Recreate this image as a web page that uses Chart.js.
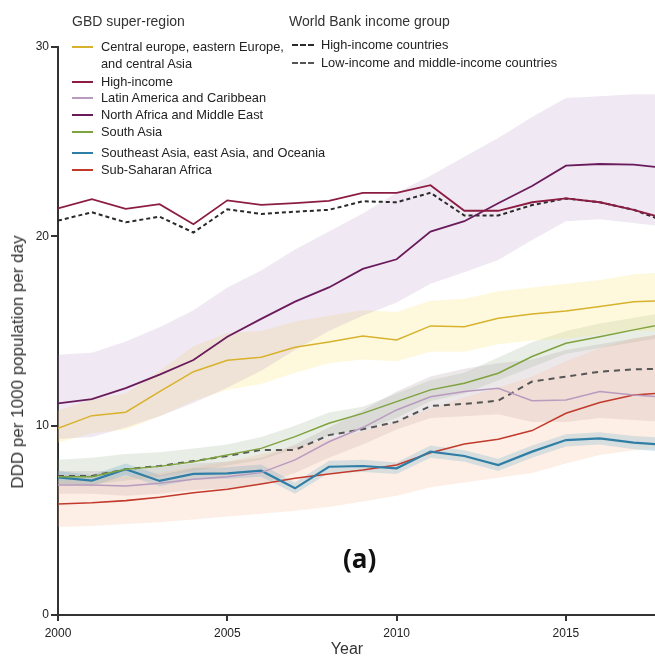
<!DOCTYPE html>
<html>
<head>
<meta charset="utf-8">
<script src="https://cdn.jsdelivr.net/npm/chart.js@4"></script>
<style>
  body { margin: 0; background: #fff; }
  #wrap { position: relative; width: 655px; height: 657px; font-family: "Liberation Sans", Arial, sans-serif; color: #222; overflow: hidden; }
  #wrap canvas { position: absolute; left: 0; top: 0; }
  .lg { position: absolute; font-size: 12.8px; line-height: 14px; white-space: nowrap; }
  .hd { position: absolute; font-size: 14px; color: #333; white-space: nowrap; }
  .sw { position: absolute; width: 21px; height: 0; border-top: 2px solid; }
  #panel { position: absolute; left: 343px; top: 540px; font-family: "Open Sans", sans-serif; font-weight: bold; font-size: 26px; color: #111; }
  #ytitle { position: absolute; left: 18px; top: 362px; font-size: 17px; color: #333; white-space: nowrap; transform: translate(-50%, -50%) rotate(-90deg); }
  #xtitle { position: absolute; left: 347px; top: 649px; font-size: 16px; color: #333; white-space: nowrap; transform: translate(-50%, -50%); }
</style>
</head>
<body>
<div id="wrap">
  <canvas id="canvas" width="655" height="657"></canvas>
  <div id="legend"></div>
  <div id="panel">(a)</div>
  <div id="ytitle">DDD per 1000 population per day</div>
  <div id="xtitle">Year</div>
</div>
<script>
// years and series (DDD per 1000 population per day)
var years = [2000, 2001, 2002, 2003, 2004, 2005, 2006, 2007, 2008, 2009, 2010, 2011, 2012, 2013, 2014, 2015, 2016, 2017, 2018];

var centralEurope = [9.86, 10.53, 10.71, 11.8, 12.85, 13.45, 13.61, 14.14, 14.42, 14.74, 14.53, 15.27, 15.23, 15.67, 15.9, 16.06, 16.29, 16.55, 16.6];
var highIncome = [21.48, 21.96, 21.45, 21.7, 20.64, 21.9, 21.66, 21.75, 21.87, 22.3, 22.3, 22.7, 21.35, 21.35, 21.8, 22.0, 21.8, 21.4, 20.9];
var latinAmerica = [6.87, 6.87, 6.81, 6.96, 7.17, 7.3, 7.52, 8.19, 9.15, 9.9, 10.83, 11.53, 11.8, 11.98, 11.32, 11.36, 11.8, 11.62, 11.5];
var northAfrica = [11.18, 11.4, 11.98, 12.7, 13.47, 14.7, 15.64, 16.55, 17.3, 18.28, 18.79, 20.25, 20.8, 21.75, 22.66, 23.73, 23.82, 23.79, 23.6];
var southAsia = [7.3, 7.3, 7.7, 7.85, 8.1, 8.45, 8.8, 9.42, 10.13, 10.65, 11.27, 11.89, 12.24, 12.77, 13.65, 14.35, 14.7, 15.06, 15.4];
var southeastAsia = [7.27, 7.1, 7.7, 7.08, 7.45, 7.48, 7.62, 6.69, 7.83, 7.87, 7.75, 8.63, 8.4, 7.92, 8.63, 9.24, 9.33, 9.1, 8.98];
var subSaharan = [5.86, 5.93, 6.04, 6.22, 6.46, 6.64, 6.92, 7.22, 7.45, 7.66, 7.92, 8.57, 9.03, 9.28, 9.74, 10.65, 11.22, 11.62, 11.74];
var highIncomeCountries = [20.83, 21.27, 20.74, 21.04, 20.2, 21.43, 21.18, 21.3, 21.4, 21.85, 21.8, 22.3, 21.1, 21.1, 21.65, 22.0, 21.8, 21.4, 20.75];
var lowMiddleCountries = [7.34, 7.34, 7.7, 7.87, 8.13, 8.4, 8.72, 8.72, 9.5, 9.81, 10.2, 11.04, 11.15, 11.32, 12.33, 12.59, 12.85, 12.98, 13.0];

// uncertainty bands
var northAfricaLow = [9.3, 9.4, 9.9, 10.5, 11.2, 12.0, 12.9, 14.0, 15.0, 15.8, 16.5, 17.5, 18.1, 18.75, 19.8, 20.8, 20.9, 20.7, 20.5];
var northAfricaHigh = [13.75, 13.85, 14.45, 15.2, 16.1, 17.3, 18.2, 19.3, 20.25, 21.2, 22.3, 23.2, 24.2, 25.2, 26.3, 27.3, 27.4, 27.5, 27.5];
var centralEuropeLow = [9.1, 9.6, 9.8, 10.5, 11.3, 11.9, 12.2, 12.8, 13.3, 13.5, 13.4, 13.9, 13.9, 14.3, 14.5, 14.6, 14.8, 15.0, 15.0];
var centralEuropeHigh = [10.8, 11.4, 11.7, 12.9, 14.2, 14.9, 15.0, 15.5, 15.8, 16.1, 16.0, 16.6, 16.7, 17.1, 17.3, 17.5, 17.7, 18.0, 18.1];
var subSaharanLow = [4.65, 4.7, 4.8, 4.9, 5.05, 5.2, 5.35, 5.5, 5.7, 6.0, 6.3, 6.75, 7.0, 7.25, 7.5, 8.0, 8.45, 8.7, 8.8];
var subSaharanHigh = [7.1, 7.2, 7.3, 7.5, 7.8, 8.1, 8.5, 8.9, 9.3, 9.7, 10.2, 10.9, 11.5, 12.0, 12.6, 13.4, 14.1, 14.6, 14.9];
var latinAmericaLow = [6.4, 6.4, 6.3, 6.4, 6.6, 6.7, 6.9, 7.5, 8.3, 9.0, 9.8, 10.4, 10.5, 10.6, 10.2, 10.2, 10.4, 10.3, 10.2];
var latinAmericaHigh = [7.6, 7.6, 7.6, 7.8, 8.0, 8.1, 8.3, 9.0, 9.9, 10.8, 11.8, 12.6, 13.0, 13.3, 13.5, 14.0, 14.3, 14.6, 14.9];
var southAsiaLow = [6.9, 6.9, 7.1, 7.3, 7.6, 7.9, 8.2, 8.8, 9.5, 9.8, 10.4, 11.3, 11.7, 12.4, 13.1, 13.8, 14.1, 14.4, 14.7];
var southAsiaHigh = [8.2, 8.3, 8.5, 8.6, 8.8, 9.0, 9.4, 10.0, 10.7, 11.0, 11.7, 12.4, 12.8, 13.6, 14.4, 15.0, 15.4, 15.7, 16.0];
var southeastAsiaLow = [6.95, 6.8, 7.4, 6.8, 7.15, 7.2, 7.3, 6.4, 7.5, 7.55, 7.45, 8.3, 8.1, 7.6, 8.3, 8.9, 9.0, 8.75, 8.6];
var southeastAsiaHigh = [7.6, 7.4, 8.0, 7.4, 7.75, 7.8, 7.95, 7.0, 8.15, 8.2, 8.05, 8.95, 8.7, 8.25, 8.95, 9.55, 9.65, 9.45, 9.35];

var yTicks = [0, 10, 20, 30];
var xTicks = [2000, 2005, 2010, 2015];

function pts(vals) {
    return vals.map(function (v, i) { return { x: years[i], y: v }; });
}

var datasets = [];

function addBand(low, high, color) {
    datasets.push({ data: pts(low), borderWidth: 0, pointRadius: 0, fill: false, order: 2 });
    datasets.push({ data: pts(high), borderWidth: 0, pointRadius: 0, fill: '-1', backgroundColor: color, order: 2 });
}

function addLine(vals, color, width, dash) {
    datasets.push({ data: pts(vals), borderColor: color, borderWidth: width, borderDash: dash || [], pointRadius: 0, fill: false, tension: 0, order: 0 });
}

addBand(northAfricaLow, northAfricaHigh, 'rgba(180,140,190,0.2)');
addBand(centralEuropeLow, centralEuropeHigh, 'rgba(250,232,120,0.25)');
addBand(subSaharanLow, subSaharanHigh, 'rgba(248,180,140,0.22)');
addBand(latinAmericaLow, latinAmericaHigh, 'rgba(150,125,140,0.18)');
addBand(southAsiaLow, southAsiaHigh, 'rgba(150,175,140,0.22)');
addBand(southeastAsiaLow, southeastAsiaHigh, 'rgba(120,190,225,0.35)');

addLine(centralEurope, '#d8b22c', 1.5);
addLine(highIncome, '#8c1d42', 1.8);
addLine(latinAmerica, '#b99bc0', 1.5);
addLine(northAfrica, '#6a1b5c', 1.8);
addLine(southAsia, '#7ea33e', 1.5);
addLine(southeastAsia, '#2f7ea6', 2.2);
addLine(subSaharan, '#c23a2c', 1.6);
addLine(highIncomeCountries, '#2a2a2a', 2, [4, 3]);
addLine(lowMiddleCountries, '#555555', 2, [6, 5]);

const ctx = document.getElementById('canvas').getContext('2d');
const myChart = new Chart(ctx, {
    type: 'line',
    data: { datasets: datasets },
    options: {
        responsive: false,
        animation: false,
        layout: { padding: { top: 47, right: 0, left: 0, bottom: 0 } },
        plugins: { legend: { display: false }, tooltip: { enabled: false } },
        scales: {
            x: {
                type: 'linear',
                min: 2000,
                max: 2017.63,
                afterFit: function (s) { s.height = 42; },
                afterBuildTicks: function (s) { s.ticks = xTicks.map(function (v) { return { value: v }; }); },
                ticks: {
                    callback: function (v) { return String(v); },
                    color: '#222', font: { family: 'Liberation Sans', size: 12 }, padding: 5, maxRotation: 0
                },
                grid: { drawOnChartArea: false, drawTicks: true, tickLength: 6, color: '#333', lineWidth: 2 },
                border: { color: '#333', width: 2 }
            },
            y: {
                min: 0,
                max: 30,
                afterFit: function (s) { s.width = 58; },
                afterBuildTicks: function (s) { s.ticks = yTicks.map(function (v) { return { value: v }; }); },
                ticks: { color: '#222', font: { family: 'Liberation Sans', size: 12 }, padding: 2 },
                grid: { drawOnChartArea: false, drawTicks: true, tickLength: 7, color: '#333', lineWidth: 2 },
                border: { color: '#333', width: 2 }
            }
        }
    }
});

// legend in two columns, placed over the top of the plot
var legendRows = [
    { x: 72, y: 13, head: 'GBD super-region' },
    { x: 289, y: 13, head: 'World Bank income group' },
    { x: 72, y: 40, text: 'Central europe, eastern Europe,', color: '#d8b22c' },
    { x: 72, y: 57, text: 'and central Asia' },
    { x: 72, y: 75, text: 'High-income', color: '#8c1d42' },
    { x: 72, y: 91, text: 'Latin America and Caribbean', color: '#b99bc0' },
    { x: 72, y: 108, text: 'North Africa and Middle East', color: '#6a1b5c' },
    { x: 72, y: 125, text: 'South Asia', color: '#7ea33e' },
    { x: 72, y: 146, text: 'Southeast Asia, east Asia, and Oceania', color: '#2f7ea6' },
    { x: 72, y: 163, text: 'Sub-Saharan Africa', color: '#c23a2c' },
    { x: 292, y: 38, text: 'High-income countries', color: '#2a2a2a', dash: true },
    { x: 292, y: 56, text: 'Low-income and middle-income countries', color: '#555', dash: true }
];
var lg = document.getElementById('legend');
legendRows.forEach(function (r) {
    if (r.head) {
        var h = document.createElement('div');
        h.className = 'hd';
        h.style.left = r.x + 'px';
        h.style.top = r.y + 'px';
        h.textContent = r.head;
        lg.appendChild(h);
        return;
    }
    if (r.color) {
        var s = document.createElement('div');
        s.className = 'sw';
        s.style.left = r.x + 'px';
        s.style.top = (r.y + 6) + 'px';
        s.style.borderTopColor = r.color;
        if (r.dash) { s.style.borderTopStyle = 'dashed'; s.style.width = '22px'; }
        lg.appendChild(s);
    }
    var t = document.createElement('div');
    t.className = 'lg';
    t.style.left = (r.x + 29) + 'px';
    t.style.top = r.y + 'px';
    t.textContent = r.text;
    lg.appendChild(t);
});
</script>
</body>
</html>
